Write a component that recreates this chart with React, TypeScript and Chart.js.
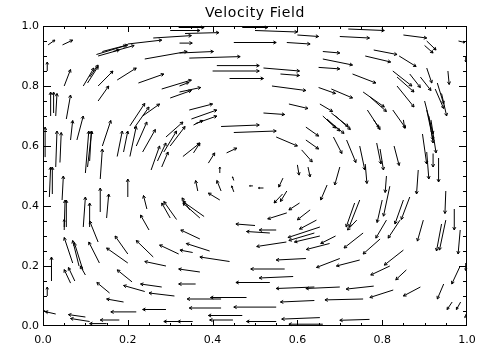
import React, { useEffect, useRef } from "react";
import { Chart, registerables } from "chart.js";

Chart.register(...registerables);

// Each arrow: [x tail, y tail, u (dx), v (dy)] in data units
type Arrow = [number, number, number, number];

const chartTitle = "Velocity Field";
const axisTickValues = [0, 0.2, 0.4, 0.6, 0.8, 1.0];
const minorTickStep = 0.05;

const topLeftArrows: Arrow[] = [
  [0.012, 0.937, 0.016, 0.016], [0.046, 0.937, 0.024, 0.016], [0.01, 0.85, 0.0, 0.03],
  [0.126, 0.905, 0.07, 0.03], [0.13, 0.9, 0.05, 0.02], [0.14, 0.915, 0.06, 0.022],
  [0.165, 0.915, 0.05, 0.02], [0.2, 0.94, 0.08, 0.013], [0.26, 0.96, 0.09, 0.008],
  [0.3, 0.985, 0.07, 0.0], [0.24, 0.89, 0.1, 0.025], [0.05, 0.8, 0.015, 0.055],
  [0.095, 0.8, 0.025, 0.06], [0.105, 0.81, 0.025, 0.055], [0.11, 0.83, 0.02, 0.04],
  [0.13, 0.8, 0.035, 0.05], [0.13, 0.75, 0.025, 0.05], [0.175, 0.82, 0.045, 0.04],
  [0.225, 0.81, 0.06, 0.03], [0.28, 0.79, 0.07, 0.03], [0.3, 0.76, 0.05, 0.025],
  [0.018, 0.7, 0.0, 0.08], [0.025, 0.71, 0.0, 0.07], [0.03, 0.7, 0.003, 0.075],
  [0.055, 0.69, 0.01, 0.08], [0.08, 0.62, 0.015, 0.08], [0.14, 0.6, 0.02, 0.085],
  [0.205, 0.667, 0.035, 0.075], [0.215, 0.66, 0.035, 0.07], [0.235, 0.7, 0.04, 0.04],
  [0.29, 0.63, 0.04, 0.05],
];

const topMidArrows: Arrow[] = [
  [0.32, 0.995, 0.06, 0.0], [0.47, 0.995, 0.06, 0.0], [0.335, 0.975, 0.08, 0.003],
  [0.5, 0.985, 0.1, -0.005], [0.6, 0.97, 0.05, -0.005], [0.322, 0.943, 0.03, 0.0],
  [0.45, 0.945, 0.1, 0.0], [0.575, 0.945, 0.055, -0.005], [0.322, 0.91, 0.08, 0.005],
  [0.66, 0.915, 0.04, -0.005], [0.345, 0.893, 0.12, 0.005], [0.41, 0.868, 0.1, 0.0],
  [0.52, 0.86, 0.085, -0.01], [0.4, 0.85, 0.11, 0.0], [0.56, 0.84, 0.045, -0.005],
  [0.44, 0.825, 0.08, 0.0], [0.322, 0.8, 0.022, 0.012], [0.322, 0.78, 0.05, 0.015],
  [0.54, 0.8, 0.08, -0.015], [0.345, 0.72, 0.055, 0.02], [0.58, 0.74, 0.045, -0.015],
  [0.35, 0.69, 0.06, 0.03], [0.36, 0.675, 0.05, 0.025], [0.52, 0.71, 0.05, -0.005],
  [0.66, 0.7, 0.03, -0.04], [0.67, 0.69, 0.03, -0.04],
];

const topRightArrows: Arrow[] = [
  [0.72, 0.99, 0.085, -0.005], [0.7, 0.965, 0.07, -0.005], [0.85, 0.97, 0.055, -0.01],
  [0.905, 0.95, 0.022, -0.03], [0.9, 0.935, 0.02, -0.025], [0.98, 0.95, 0.015, -0.005],
  [0.997, 0.9, 0.0, -0.02], [0.66, 0.89, 0.07, -0.02], [0.78, 0.92, 0.055, -0.015],
  [0.76, 0.9, 0.06, -0.02], [0.84, 0.9, 0.04, -0.035], [0.65, 0.862, 0.05, -0.005],
  [0.73, 0.84, 0.055, -0.03], [0.825, 0.85, 0.045, -0.05], [0.835, 0.83, 0.04, -0.05],
  [0.865, 0.84, 0.025, -0.045], [0.905, 0.86, 0.012, -0.05], [0.955, 0.85, 0.003, -0.045],
  [0.89, 0.83, 0.025, -0.045], [0.93, 0.81, 0.015, -0.07], [0.925, 0.79, 0.02, -0.065],
  [0.94, 0.775, 0.012, -0.075], [0.65, 0.795, 0.04, -0.02], [0.68, 0.79, 0.05, -0.03],
  [0.755, 0.78, 0.05, -0.05], [0.77, 0.765, 0.04, -0.05], [0.835, 0.8, 0.04, -0.07],
  [0.653, 0.74, 0.03, -0.025], [0.765, 0.72, 0.03, -0.065], [0.825, 0.72, 0.03, -0.06],
  [0.9, 0.75, 0.02, -0.11], [0.905, 0.72, 0.015, -0.1], [0.91, 0.7, 0.01, -0.09],
  [0.68, 0.71, 0.04, -0.045], [0.69, 0.7, 0.035, -0.045],
];

const leftMidArrows: Arrow[] = [
  [0.005, 0.563, 0.0, 0.1], [0.015, 0.43, 0.003, 0.1], [0.022, 0.44, 0.0, 0.09],
  [0.03, 0.53, 0.003, 0.12], [0.04, 0.545, 0.003, 0.1], [0.045, 0.42, 0.003, 0.08],
  [0.05, 0.32, 0.002, 0.1], [0.055, 0.33, 0.0, 0.09], [0.065, 0.62, 0.005, 0.065],
  [0.1, 0.51, 0.008, 0.14], [0.105, 0.53, 0.01, 0.12], [0.11, 0.55, 0.004, 0.1],
  [0.095, 0.33, 0.005, 0.1], [0.11, 0.33, 0.0, 0.08], [0.135, 0.49, 0.005, 0.1],
  [0.135, 0.38, 0.0, 0.08], [0.15, 0.36, 0.005, 0.08], [0.175, 0.565, 0.012, 0.085],
  [0.19, 0.58, 0.01, 0.07], [0.205, 0.565, 0.015, 0.1], [0.22, 0.6, 0.025, 0.08],
  [0.235, 0.58, 0.03, 0.075], [0.255, 0.52, 0.02, 0.08], [0.27, 0.55, 0.02, 0.06],
  [0.28, 0.53, 0.015, 0.05], [0.285, 0.58, 0.03, 0.07], [0.3, 0.6, 0.035, 0.065],
  [0.2, 0.43, 0.0, 0.06], [0.25, 0.32, -0.02, 0.05], [0.245, 0.39, -0.008, 0.045],
  [0.315, 0.355, -0.03, 0.06], [0.3, 0.36, -0.02, 0.05], [0.346, 0.387, -0.018, 0.04],
];

const coreArrows: Arrow[] = [
  [0.355, 0.67, 0.022, 0.015], [0.42, 0.665, 0.09, 0.005], [0.45, 0.645, 0.1, 0.005],
  [0.55, 0.63, 0.05, -0.03], [0.62, 0.663, 0.03, -0.03], [0.62, 0.62, 0.03, -0.03],
  [0.33, 0.565, 0.04, 0.045], [0.355, 0.577, 0.015, 0.033], [0.39, 0.543, 0.015, 0.034],
  [0.433, 0.577, 0.024, 0.016], [0.417, 0.51, 0.0, 0.02], [0.365, 0.45, -0.005, 0.035],
  [0.42, 0.45, -0.01, 0.035], [0.45, 0.447, -0.005, 0.02], [0.45, 0.485, -0.003, 0.012],
  [0.495, 0.467, -0.008, 0.0], [0.52, 0.46, -0.012, 0.0], [0.566, 0.493, -0.01, -0.03],
  [0.6, 0.537, 0.004, -0.034], [0.625, 0.53, 0.005, -0.033], [0.61, 0.587, 0.025, -0.04],
  [0.575, 0.45, -0.015, -0.035], [0.565, 0.44, -0.02, -0.03], [0.605, 0.41, -0.025, -0.023],
  [0.417, 0.42, -0.027, 0.023], [0.38, 0.365, -0.05, 0.05], [0.37, 0.36, -0.04, 0.05],
  [0.67, 0.47, -0.015, -0.05], [0.575, 0.377, -0.045, -0.02], [0.63, 0.387, -0.03, -0.033],
  [0.5, 0.335, -0.045, 0.005], [0.55, 0.32, -0.04, 0.0], [0.645, 0.353, -0.04, -0.03],
];

const rightMidArrows: Arrow[] = [
  [0.67, 0.687, 0.04, -0.045], [0.78, 0.687, 0.012, -0.025], [0.85, 0.687, 0.003, -0.028],
  [0.685, 0.63, 0.02, -0.055], [0.716, 0.62, 0.022, -0.075], [0.747, 0.6, 0.012, -0.08],
  [0.76, 0.54, 0.004, -0.065], [0.787, 0.61, 0.01, -0.07], [0.795, 0.59, 0.008, -0.07],
  [0.828, 0.6, 0.012, -0.065], [0.81, 0.5, -0.003, -0.055], [0.885, 0.52, -0.004, -0.08],
  [0.895, 0.64, 0.01, -0.1], [0.905, 0.58, 0.005, -0.09], [0.915, 0.687, 0.012, -0.11],
  [0.92, 0.575, 0.0, -0.045], [0.933, 0.56, 0.0, -0.08], [0.95, 0.45, -0.002, -0.075],
  [0.97, 0.39, 0.0, -0.07], [0.7, 0.53, -0.012, -0.06], [0.818, 0.466, -0.015, -0.1],
  [0.8, 0.42, -0.012, -0.075], [0.865, 0.43, -0.02, -0.075], [0.85, 0.42, -0.02, -0.08],
  [0.747, 0.42, -0.025, -0.09], [0.735, 0.41, -0.02, -0.08],
];

const bottomLeftArrows: Arrow[] = [
  [0.05, 0.33, 0.0, 0.025], [0.13, 0.28, -0.02, 0.07], [0.02, 0.15, 0.0, 0.08],
  [0.01, 0.1, 0.0, 0.03], [0.07, 0.21, -0.02, 0.085], [0.094, 0.187, -0.02, 0.09],
  [0.085, 0.2, -0.015, 0.085], [0.065, 0.143, -0.015, 0.045], [0.075, 0.15, -0.015, 0.045],
  [0.1, 0.17, -0.012, 0.03], [0.133, 0.21, -0.025, 0.07], [0.2, 0.21, -0.05, 0.05],
  [0.2, 0.24, -0.03, 0.06], [0.157, 0.11, -0.03, 0.035], [0.21, 0.147, -0.035, 0.04],
  [0.26, 0.23, -0.04, 0.055], [0.32, 0.24, -0.045, 0.03], [0.29, 0.2, -0.05, 0.015],
  [0.28, 0.13, -0.05, 0.01], [0.24, 0.115, -0.05, 0.02], [0.31, 0.1, -0.06, 0.01],
  [0.22, 0.047, -0.06, 0.0], [0.29, 0.055, -0.055, 0.0], [0.03, 0.04, -0.025, 0.008],
  [0.11, 0.015, -0.045, 0.01], [0.15, 0.008, -0.04, 0.0], [0.18, 0.02, -0.045, 0.0],
  [0.35, 0.015, -0.065, 0.0], [0.19, 0.08, -0.04, 0.01], [0.1, 0.03, -0.04, 0.008],
  [0.012, 0.045, -0.01, 0.005],
];

const bottomMidArrows: Arrow[] = [
  [0.535, 0.31, -0.055, 0.005], [0.37, 0.29, -0.045, 0.03], [0.653, 0.33, -0.075, -0.035],
  [0.64, 0.31, -0.06, -0.025], [0.653, 0.3, -0.06, -0.02], [0.574, 0.28, -0.07, -0.015],
  [0.676, 0.275, -0.055, -0.02], [0.353, 0.245, -0.03, 0.008], [0.393, 0.25, -0.055, 0.025],
  [0.44, 0.215, -0.07, 0.015], [0.62, 0.225, -0.07, -0.005], [0.7, 0.225, -0.055, -0.03],
  [0.57, 0.19, -0.08, 0.0], [0.59, 0.165, -0.08, -0.005], [0.37, 0.18, -0.05, 0.01],
  [0.535, 0.145, -0.08, 0.0], [0.36, 0.14, -0.04, 0.0], [0.64, 0.13, -0.09, -0.005],
  [0.7, 0.13, -0.08, -0.005], [0.48, 0.095, -0.085, 0.0], [0.42, 0.09, -0.08, 0.0],
  [0.64, 0.085, -0.08, -0.005], [0.42, 0.06, -0.075, 0.0], [0.55, 0.063, -0.1, 0.0],
  [0.47, 0.035, -0.08, 0.0], [0.353, 0.015, -0.035, 0.0], [0.448, 0.02, -0.055, 0.0],
  [0.55, 0.015, -0.07, 0.0], [0.653, 0.028, -0.09, -0.005], [0.66, 0.006, -0.08, 0.0],
];

const bottomRightArrows: Arrow[] = [
  [0.74, 0.353, -0.022, -0.033], [0.81, 0.353, -0.025, -0.06], [0.842, 0.353, -0.028, -0.06],
  [0.897, 0.353, -0.014, -0.07], [0.95, 0.353, -0.015, -0.1], [0.94, 0.34, -0.012, -0.09],
  [0.984, 0.32, -0.005, -0.08], [0.69, 0.3, -0.035, -0.025], [0.755, 0.31, -0.045, -0.05],
  [0.795, 0.29, -0.04, -0.05], [0.85, 0.253, -0.045, -0.05], [0.747, 0.22, -0.055, -0.02],
  [0.818, 0.2, -0.045, -0.03], [0.857, 0.187, -0.025, -0.033], [0.945, 0.14, -0.015, -0.05],
  [0.984, 0.2, -0.02, -0.06], [0.997, 0.21, 0.0, -0.025], [0.78, 0.133, -0.065, -0.01],
  [0.755, 0.09, -0.09, -0.003], [0.826, 0.12, -0.055, -0.025], [0.89, 0.13, -0.04, -0.03],
  [0.965, 0.08, -0.012, -0.025], [0.985, 0.08, -0.01, -0.025], [0.77, 0.022, -0.07, -0.003],
  [0.998, 0.04, -0.003, -0.012],
];

const arrowGroups: Arrow[][] = [
  topLeftArrows, topMidArrows, topRightArrows, leftMidArrows, coreArrows,
  rightMidArrows, bottomLeftArrows, bottomMidArrows, bottomRightArrows,
];

const FONT = "'DejaVu Sans', 'Liberation Sans', sans-serif";

export default function App() {
  const canvasRef = useRef<HTMLCanvasElement | null>(null);

  useEffect(() => {
    const canvas = canvasRef.current;
    if (!canvas) return;

    const arrowPlugin = {
      id: "quiverArrows",
      afterDatasetsDraw(chart: any) {
        const { ctx } = chart;
        const xs = chart.scales.x;
        const ys = chart.scales.y;
        ctx.save();
        ctx.strokeStyle = "#000";
        ctx.lineWidth = 1;
        ctx.lineCap = "butt";
        chart.data.datasets.forEach((ds: any) => {
          ds.data.forEach((p: any) => {
            const x0 = xs.getPixelForValue(p.x);
            const y0 = ys.getPixelForValue(p.y);
            const x1 = xs.getPixelForValue(p.x + p.u);
            const y1 = ys.getPixelForValue(p.y + p.v);
            const dx = x1 - x0;
            const dy = y1 - y0;
            const len = Math.hypot(dx, dy);
            ctx.beginPath();
            ctx.moveTo(x0, y0);
            ctx.lineTo(x1, y1);
            if (len > 1) {
              const h = Math.min(3.2, len * 0.3);
              const a = Math.atan2(dy, dx);
              const s = 0.5;
              ctx.moveTo(x1, y1);
              ctx.lineTo(x1 - h * Math.cos(a - s), y1 - h * Math.sin(a - s));
              ctx.moveTo(x1, y1);
              ctx.lineTo(x1 - h * Math.cos(a + s), y1 - h * Math.sin(a + s));
            }
            ctx.stroke();
          });
        });
        ctx.restore();
      },
    };

    const framePlugin = {
      id: "idlFrame",
      afterDraw(chart: any) {
        const { ctx, chartArea } = chart;
        const { left, right, top, bottom } = chartArea;
        const xs = chart.scales.x;
        const ys = chart.scales.y;
        ctx.save();
        ctx.strokeStyle = "#000";
        ctx.lineWidth = 1;
        ctx.beginPath();
        ctx.rect(left + 0.5, top + 0.5, right - left - 1, bottom - top - 1);
        const n = Math.round(1 / minorTickStep);
        for (let i = 0; i <= n; i++) {
          const v = i * minorTickStep;
          const major = i % 4 === 0;
          let px = Math.round(xs.getPixelForValue(v)) + 0.5;
          px = Math.min(Math.max(px, left + 0.5), right - 0.5);
          const tlx = major ? 6 : 3;
          ctx.moveTo(px, bottom);
          ctx.lineTo(px, bottom - tlx);
          ctx.moveTo(px, top);
          ctx.lineTo(px, top + tlx);
          let py = Math.round(ys.getPixelForValue(v)) + 0.5;
          py = Math.min(Math.max(py, top + 0.5), bottom - 0.5);
          const tly = major ? 8 : 4;
          ctx.moveTo(left, py);
          ctx.lineTo(left + tly, py);
          ctx.moveTo(right, py);
          ctx.lineTo(right - tly, py);
        }
        ctx.stroke();
        // title
        ctx.fillStyle = "#000";
        ctx.font = `14px ${FONT}`;
        ctx.textAlign = "center";
        ctx.textBaseline = "middle";
        try {
          (ctx as any).letterSpacing = "0.6px";
        } catch (e) {}
        ctx.fillText(chartTitle, (left + right) / 2, 13);
        ctx.restore();
      },
    };

    const tickCallback = (v: any) => {
      const num = Number(v);
      const match = axisTickValues.find((t) => Math.abs(t - num) < 1e-6);
      return match === undefined ? "" : match.toFixed(1);
    };

    const chart = new Chart(canvas, {
      type: "scatter",
      data: {
        datasets: arrowGroups.map((group, gi) => ({
          label: `group${gi}`,
          data: group.map(([x, y, u, v]) => ({ x, y, u, v })),
          pointRadius: 0,
          pointHoverRadius: 0,
          showLine: false,
          borderColor: "#000",
          backgroundColor: "#000",
        })),
      },
      options: {
        animation: false,
        responsive: false,
        events: [],
        layout: { padding: { left: 0, right: 17, top: 26, bottom: 0 } },
        plugins: {
          legend: { display: false },
          tooltip: { enabled: false },
          title: { display: false },
        },
        scales: {
          x: {
            type: "linear",
            min: 0,
            max: 1,
            grid: { display: false, drawTicks: false },
            border: { display: false },
            ticks: {
              stepSize: 0.2,
              autoSkip: false,
              maxRotation: 0,
              padding: 8,
              color: "#000",
              font: { family: FONT, size: 11 },
              callback: tickCallback,
            },
            afterFit: (scale: any) => {
              scale.height = 33;
            },
          },
          y: {
            type: "linear",
            min: 0,
            max: 1,
            grid: { display: false, drawTicks: false },
            border: { display: false },
            ticks: {
              stepSize: 0.2,
              autoSkip: false,
              padding: 4,
              color: "#000",
              font: { family: FONT, size: 11 },
              callback: tickCallback,
            },
            afterFit: (scale: any) => {
              scale.width = 43;
            },
          },
        },
      } as any,
      plugins: [arrowPlugin, framePlugin],
    });

    return () => {
      chart.destroy();
    };
  }, []);

  return (
    <div
      style={{
        position: "absolute",
        left: 0,
        top: 0,
        width: 484,
        height: 359,
        background: "#fff",
      }}
    >
      <canvas ref={canvasRef} width={484} height={359} style={{ display: "block" }} />
    </div>
  );
}
